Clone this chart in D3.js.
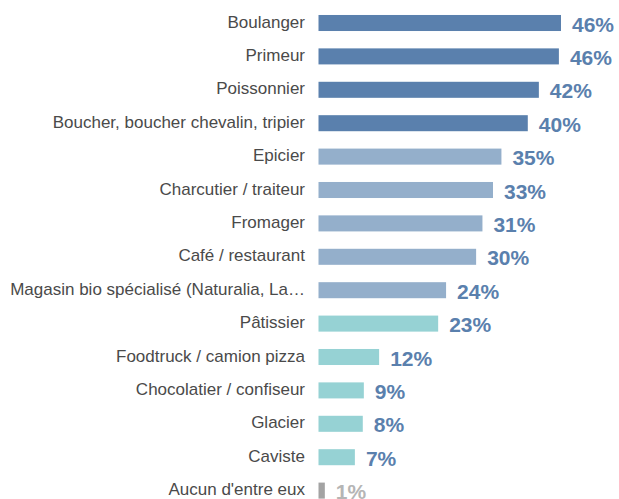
<!DOCTYPE html>
<html>
<head>
<meta charset="utf-8">
<script src="https://cdn.jsdelivr.net/npm/d3@7"></script>
<style>
  body { margin: 0; background: #fff; }
  svg { display: block; font-family: "Liberation Sans", Arial, sans-serif; }
</style>
</head>
<body>
<div id="chart"></div>
<script>
// Commerces de proximité — horizontal bar chart
const categories = [
  "Boulanger", "Primeur", "Poissonnier", "Boucher, boucher chevalin, tripier",
  "Epicier", "Charcutier / traiteur", "Fromager", "Café / restaurant",
  "Magasin bio spécialisé (Naturalia, La…", "Pâtissier", "Foodtruck / camion pizza",
  "Chocolatier / confiseur", "Glacier", "Caviste", "Aucun d'entre eux"
];
const values = [46.0, 45.6, 41.8, 39.7, 34.7, 33.1, 31.1, 29.9, 24.2, 22.7, 11.5, 8.6, 8.4, 6.9, 1.2];
const valueLabels = ["46%", "46%", "42%", "40%", "35%", "33%", "31%", "30%", "24%", "23%", "12%", "9%", "8%", "7%", "1%"];
const groups = ["top", "top", "top", "top", "mid", "mid", "mid", "mid", "mid", "low", "low", "low", "low", "low", "none"];

const colors = { top: "#5a80ad", mid: "#94afcb", low: "#96d2d4", none: "#a3a3a3" };
const labelColors = { top: "#5a80ad", mid: "#5a80ad", low: "#5a80ad", none: "#b5b5b5" };

const W = 619, H = 499;
const x0 = 318.5;

const svg = d3.select("#chart").append("svg")
  .attr("width", W).attr("height", H);

const x = d3.scaleLinear().domain([0, 46]).range([x0, 561]);
const y = d3.scaleBand().domain(categories).range([6.3, 507.3]).paddingInner(0.52).paddingOuter(0.26);

const rows = categories.map((c, i) => ({ cat: c, v: values[i], lab: valueLabels[i], g: groups[i] }));

// Category labels
svg.append("g").selectAll("text").data(rows).join("text")
  .attr("x", 305)
  .attr("y", d => y(d.cat) + y.bandwidth() / 2 - 1)
  .attr("text-anchor", "end").attr("dominant-baseline", "central")
  .attr("fill", "#4a4a4a").attr("font-size", "17px")
  .text(d => d.cat);

// Bars
svg.append("g").selectAll("rect").data(rows).join("rect")
  .attr("x", x(0))
  .attr("y", d => y(d.cat))
  .attr("width", d => x(d.v) - x(0))
  .attr("height", y.bandwidth())
  .attr("fill", d => colors[d.g]);

// Value labels
svg.append("g").selectAll("text").data(rows).join("text")
  .attr("x", d => x(d.v) + 11)
  .attr("y", d => y(d.cat) + y.bandwidth() / 2 + 1)
  .attr("dominant-baseline", "central")
  .attr("fill", d => labelColors[d.g])
  .attr("font-size", "21px").attr("font-weight", "bold")
  .text(d => d.lab);
</script>
</body>
</html>
